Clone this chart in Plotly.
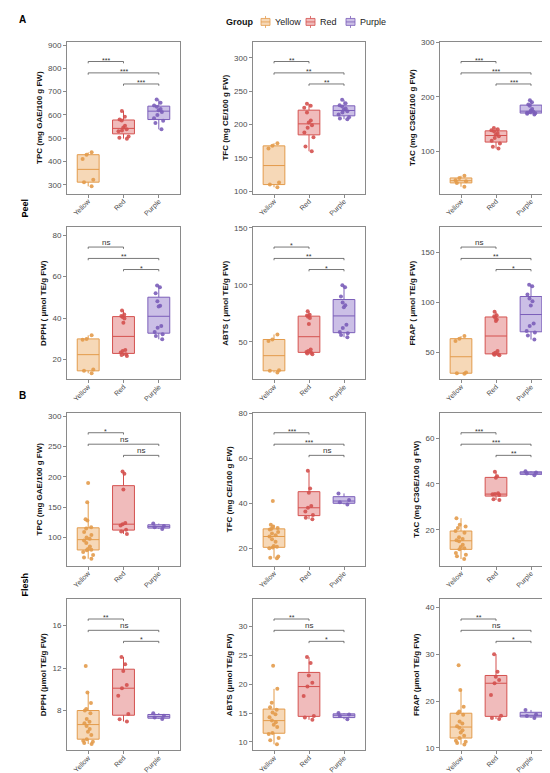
import plotly.graph_objects as go

groups = ["Yellow", "Red", "Purple"]
line_colors = ["#E39B4B", "#D4514F", "#7B5EB9"]
fill_colors = ["rgba(236,168,95,0.45)", "rgba(222,105,105,0.45)", "rgba(140,112,200,0.45)"]

# Peel samples
peel_tpc_yellow = [293, 311, 321, 411, 429, 439]
peel_tpc_red = [498, 502, 507, 530, 533, 538, 546, 553, 576, 580, 592, 617]
peel_tpc_purple = [538, 565, 575, 585, 600, 612, 620, 625, 635, 640, 652, 666]

peel_tfc_yellow = [106, 110, 113, 164, 168, 172]
peel_tfc_red = [160, 167, 181, 188, 195, 199, 203, 206, 218, 225, 228, 231]
peel_tfc_purple = [208, 209, 211, 215, 218, 220, 222, 224, 227, 229, 232, 237]

peel_tac_yellow = [36, 43, 46, 48, 52, 56]
peel_tac_red = [106, 109, 115, 120, 125, 128, 131, 134, 137, 139, 141, 143]
peel_tac_purple = [168, 169, 170, 171, 172, 173, 175, 178, 184, 186, 190, 194]

peel_dpph_yellow = [13.4, 14.6, 15.2, 29.6, 30.0, 31.7]
peel_dpph_red = [21.8, 22.2, 22.6, 23.4, 24.2, 24.6, 37.8, 39.8, 40.5, 41.0, 41.8, 43.7]
peel_dpph_purple = [29.8, 31.4, 32.2, 33.3, 35.4, 36.2, 45.6, 46.0, 48.2, 52.0, 54.9, 55.8]

peel_abts_yellow = [23.0, 24.5, 25.0, 50.6, 52.0, 56.4]
peel_abts_red = [39.0, 39.6, 40.4, 41.0, 41.9, 43.3, 65.6, 70.9, 72.0, 73.0, 73.8, 76.7]
peel_abts_purple = [54.0, 56.0, 57.5, 58.5, 62.0, 65.0, 80.4, 82.0, 84.5, 89.7, 97.8, 99.6]

peel_frap_yellow = [29.0, 29.5, 30.2, 61.6, 63.9, 66.5]
peel_frap_red = [47.5, 48.0, 48.5, 49.0, 50.0, 51.6, 81.5, 83.0, 84.7, 86.3, 87.3, 90.6]
peel_frap_purple = [63.0, 67.0, 70.0, 71.5, 76.4, 79.0, 96.9, 101.2, 104.0, 107.8, 116.0, 117.7]

# Flesh samples
flesh_tpc_yellow = [65, 67, 71, 76, 79, 80, 81, 85, 91, 95, 98, 100, 104, 109, 115, 117, 128, 130, 158, 190]
flesh_tpc_red = [106, 110, 113, 120, 122, 124, 179, 205, 209]
flesh_tpc_purple = [114, 117, 119, 123]

flesh_tfc_yellow = [15.5, 15.7, 16.3, 20.0, 20.3, 20.6, 21.0, 22.9, 24.0, 25.2, 25.8, 26.5,
                    27.2, 28.3, 28.7, 29.0, 29.6, 30.4, 41.0]
flesh_tfc_red = [32.9, 33.6, 34.8, 36.3, 38.0, 38.8, 44.7, 46.6, 54.5]
flesh_tfc_purple = [39.5, 40.5, 41.5, 44.4]

flesh_tac_yellow = [7.3, 8.5, 9.2, 9.9, 11.5, 12.0, 12.5, 13.5, 15.0, 15.5, 16.0, 16.8,
                    18.8, 19.5, 20.8, 21.5, 22.2, 25.1]
flesh_tac_red = [33.0, 33.3, 35.2, 35.5, 35.6, 36.0, 42.7, 43.4, 45.3]
flesh_tac_purple = [43.8, 44.6, 45.0, 45.6]

flesh_dpph_yellow = [4.85, 4.95, 5.05, 5.15, 5.3, 5.7, 6.0, 6.25, 6.55, 6.8, 6.95, 7.2,
                     7.75, 8.0, 8.15, 8.7, 9.7, 12.2]
flesh_dpph_red = [6.97, 7.18, 7.68, 9.4, 10.1, 10.4, 11.73, 12.36, 13.04]
flesh_dpph_purple = [7.2, 7.35, 7.5, 7.75]

flesh_abts_yellow = [9.6, 10.3, 10.7, 11.4, 11.55, 12.6, 13.0, 13.4, 13.7, 14.3, 14.8, 15.1,
                     15.6, 16.0, 16.8, 19.2, 23.2]
flesh_abts_red = [13.84, 14.24, 14.5, 17.97, 19.6, 20.26, 21.5, 23.7, 24.7]
flesh_abts_purple = [13.95, 14.5, 14.75, 15.0]

flesh_frap_yellow = [10.7, 11.05, 11.3, 11.5, 12.1, 12.6, 13.3, 13.75, 14.3, 14.6, 15.2, 15.65,
                     17.06, 17.4, 17.77, 18.8, 22.35, 27.65]
flesh_frap_red = [16.15, 16.36, 16.85, 21.3, 23.8, 24.5, 25.2, 26.24, 29.98]
flesh_frap_purple = [16.4, 16.8, 17.1, 18.1]

# significance labels for Yellow-Red, Yellow-Purple, Red-Purple
pairs = [(0, 1), (0, 2), (1, 2)]

panels = [
    ("TPC (mg GAE/100 g FW)", [peel_tpc_yellow, peel_tpc_red, peel_tpc_purple], ["***", "***", "***"], [262, 914], 100),
    ("TFC (mg CE/100 g FW)", [peel_tfc_yellow, peel_tfc_red, peel_tfc_purple], ["**", "**", "**"], [96.5, 324], 50),
    ("TAC (mg C3GE/100 g FW)", [peel_tac_yellow, peel_tac_red, peel_tac_purple], ["***", "***", "***"], [23.5, 300.6], 100),
    ("DPPH ( μmol TE/g FW)", [peel_dpph_yellow, peel_dpph_red, peel_dpph_purple], ["ns", "**", "*"], [10.6, 83.8], 20),
    ("ABTS ( μmol TE/g FW)", [peel_abts_yellow, peel_abts_red, peel_abts_purple], ["*", "**", "*"], [17.2, 150.5], 50),
    ("FRAP ( μmol TE/g FW)", [peel_frap_yellow, peel_frap_red, peel_frap_purple], ["ns", "**", "*"], [23.6, 174.8], 50),
    ("TPC (mg GAE/100 g FW)", [flesh_tpc_yellow, flesh_tpc_red, flesh_tpc_purple], ["*", "ns", "ns"], [53.6, 305.5], 50),
    ("TFC (mg CE/100 g FW)", [flesh_tfc_yellow, flesh_tfc_red, flesh_tfc_purple], ["***", "***", "ns"], [12.2, 80.3], 20),
    ("TAC (mg C3GE/100 g FW)", [flesh_tac_yellow, flesh_tac_red, flesh_tac_purple], ["***", "***", "**"], [4.4, 71], 20),
    ("DPPH (μmol TE/g FW)", [flesh_dpph_yellow, flesh_dpph_red, flesh_dpph_purple], ["**", "ns", "*"], [4.26, 18.46], 4),
    ("ABTS (μmol TE/g FW)", [flesh_abts_yellow, flesh_abts_red, flesh_abts_purple], ["**", "ns", "*"], [8.57, 34.7], 5),
    ("FRAP (μmol TE/g FW)", [flesh_frap_yellow, flesh_frap_red, flesh_frap_purple], ["**", "ns", "*"], [9.5, 41.7], 10),
]

W, H = 550, 773
col_px = [(59, 172), (245, 357), (432, 544)]
row_px = [(30, 183), (217, 370), (404, 558), (592, 744)]
bracket_levels = [0.87, 0.795, 0.722]

font = "Arial, Liberation Sans, sans-serif"
axis_grey = "#8a8a8a"

fig = go.Figure()
layout = {}
shapes = []
annotations = []

for k, (ytitle, data, sigs, yrange, dtick) in enumerate(panels):
    row, col = divmod(k, 3)
    suffix = "" if k == 0 else str(k + 1)
    xref, yref = "x" + suffix, "y" + suffix

    for g, vals in enumerate(data):
        fig.add_trace(go.Box(
            x=[groups[g]] * len(vals), y=vals, name=groups[g],
            xaxis=xref, yaxis=yref,
            boxpoints="all", jitter=0.6, pointpos=0, width=0.62, whiskerwidth=0,
            fillcolor=fill_colors[g],
            line=dict(color=line_colors[g], width=1),
            marker=dict(color=line_colors[g], size=4, opacity=0.9),
            legendgroup=groups[g], showlegend=False,
        ))

    x0, x1 = col_px[col]
    y0, y1 = row_px[row]
    layout["xaxis" + suffix] = dict(
        domain=[x0 / W, x1 / W], anchor=yref,
        type="category", categoryorder="array", categoryarray=groups,
        range=[-0.6, 2.6], tickangle=-45, ticklabelstandoff=-3,
        showline=True, mirror=True, linecolor=axis_grey, linewidth=1,
        ticks="outside", ticklen=3, tickcolor=axis_grey,
        tickfont=dict(size=7, color="#4d4d4d"), showgrid=False, zeroline=False,
    )
    layout["yaxis" + suffix] = dict(
        domain=[1 - y1 / H, 1 - y0 / H], anchor=xref,
        range=yrange, dtick=dtick,
        showline=True, mirror=True, linecolor=axis_grey, linewidth=1,
        ticks="outside", ticklen=3, tickcolor=axis_grey,
        tickfont=dict(size=8, color="#4d4d4d"), showgrid=False, zeroline=False,
        title=dict(text="<b>" + ytitle + "</b>", font=dict(size=8, color="#111"), standoff=4),
    )

    # significance brackets
    for (a, b), lvl, lab in zip(pairs, bracket_levels, sigs):
        ydom = yref + " domain"
        shapes.append(dict(type="line", xref=xref, yref=ydom, x0=a, x1=b, y0=lvl, y1=lvl,
                           line=dict(color="#555", width=0.8)))
        for xe in (a, b):
            shapes.append(dict(type="line", xref=xref, yref=ydom, x0=xe, x1=xe, y0=lvl, y1=lvl - 0.012,
                               line=dict(color="#555", width=0.8)))
        star = lab != "ns"
        annotations.append(dict(
            text=lab, xref=xref, yref=ydom, x=(a + b) / 2, y=lvl,
            xanchor="center", yanchor="bottom", showarrow=False,
            yshift=-3 if star else -1, borderpad=0,
            font=dict(size=7 if star else 8, color="#333"),
        ))

# legend drawn as small box glyphs with labels (compact, like the ggplot key)
legend_y = 10
legend_icon_x = [253, 298, 338]
annotations.append(dict(text="<b>Group</b>", xref="paper", yref="paper", x=216 / W, y=1 - legend_y / H,
                        xanchor="left", yanchor="middle", showarrow=False, font=dict(size=9, color="#111")))
for g, ix in enumerate(legend_icon_x):
    top, bot = 1 - (legend_y - 3.5) / H, 1 - (legend_y + 3.5) / H
    shapes.append(dict(type="line", xref="paper", yref="paper", x0=(ix + 4.5) / W, x1=(ix + 4.5) / W,
                       y0=1 - (legend_y - 6) / H, y1=1 - (legend_y + 6) / H,
                       line=dict(color=line_colors[g], width=0.8)))
    shapes.append(dict(type="rect", xref="paper", yref="paper", x0=ix / W, x1=(ix + 9) / W, y0=bot, y1=top,
                       fillcolor="rgba(255,255,255,1)", line=dict(width=0)))
    shapes.append(dict(type="rect", xref="paper", yref="paper", x0=ix / W, x1=(ix + 9) / W, y0=bot, y1=top,
                       fillcolor=fill_colors[g], line=dict(color=line_colors[g], width=0.8)))
    shapes.append(dict(type="line", xref="paper", yref="paper", x0=ix / W, x1=(ix + 9) / W,
                       y0=1 - legend_y / H, y1=1 - legend_y / H, line=dict(color=line_colors[g], width=0.8)))
    annotations.append(dict(text=groups[g], xref="paper", yref="paper", x=(ix + 12) / W, y=1 - legend_y / H,
                            xanchor="left", yanchor="middle", showarrow=False, font=dict(size=9, color="#222")))

# panel letters and section labels
annotations += [
    dict(text="<b>A</b>", xref="paper", yref="paper", x=9 / W, y=1 - 8 / H,
         xanchor="left", yanchor="middle", showarrow=False, font=dict(size=10, color="#000")),
    dict(text="<b>B</b>", xref="paper", yref="paper", x=9 / W, y=1 - 387 / H,
         xanchor="left", yanchor="middle", showarrow=False, font=dict(size=10, color="#000")),
    dict(text="<b>Peel</b>", xref="paper", yref="paper", x=17 / W, y=1 - 198 / H, textangle=-90,
         xanchor="center", yanchor="middle", showarrow=False, font=dict(size=9, color="#000")),
    dict(text="<b>Flesh</b>", xref="paper", yref="paper", x=17 / W, y=1 - 577 / H, textangle=-90,
         xanchor="center", yanchor="middle", showarrow=False, font=dict(size=9, color="#000")),
]

fig.update_layout(
    width=W, height=H,
    margin=dict(l=0, r=0, t=0, b=0),
    paper_bgcolor="white", plot_bgcolor="white",
    font=dict(family=font),
    boxmode="overlay", showlegend=False,
    shapes=shapes, annotations=annotations,
    **layout,
)

fig.write_html("out.html")
